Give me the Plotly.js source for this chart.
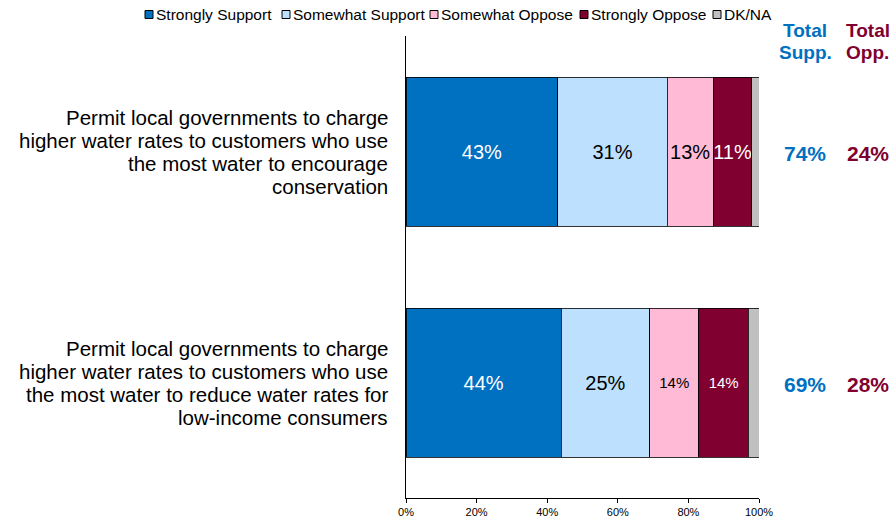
<!DOCTYPE html>
<html>
<head>
<meta charset="utf-8">
<script src="https://cdn.plot.ly/plotly-3.0.1.min.js"></script>
<style>html,body{margin:0;padding:0;background:#fff;}#chart{width:894px;height:518px;}</style>
</head>
<body>
<div id="chart"></div>
<script>
// ---- data ----
const categories = [
  "Permit local governments to charge|higher water rates to customers who use|the most water to encourage|conservation",
  "Permit local governments to charge|higher water rates to customers who use|the most water to reduce water rates for|low-income consumers"
];
const seriesNames = ["Strongly Support", "Somewhat Support", "Somewhat Oppose", "Strongly Oppose", "DK/NA"];
const stronglySupport = [43, 44];
const somewhatSupport = [31, 25];
const somewhatOppose = [13, 14];
const stronglyOppose = [11, 14];
const dkna = [2, 3];
const totalSupport = [74, 69];
const totalOppose = [24, 28];
const xTicks = [0, 20, 40, 60, 80, 100];

// ---- styles ----
const FONT = "Arial, Liberation Sans, sans-serif";
const colors = ["#0070C0", "#BDE0FF", "#FFBBD5", "#800030", "#C0C0C0"];
const textColors = ["#ffffff", "#000000", "#000000", "#ffffff", "#000000"];
const textSizes = [[20, 20], [20, 20], [20, 15], [20, 15], [1, 1]];
const allValues = [stronglySupport, somewhatSupport, somewhatOppose, stronglyOppose, dkna];
const SUPP_COLOR = "#0070C0", OPP_COLOR = "#800030";

const M = {l: 406, r: 135, t: 36, b: 20};
const W = 894, H = 518;
const PW = W - M.l - M.r, PH = H - M.t - M.b;
const px2x = p => (p - M.l) / PW;
const px2y = p => (H - M.b - p) / PH;

const traces = allValues.map((vals, i) => ({
  type: "bar",
  orientation: "h",
  name: seriesNames[i],
  y: categories,
  x: vals,
  marker: {color: colors[i], line: {color: "#000000", width: 0.8}},
  text: i === 4 ? vals.map(() => "") : vals.map(v => v + "%"),
  textposition: i === 4 ? "none" : "inside",
  insidetextanchor: "middle",
  textangle: 0,
  constraintext: "none",
  textfont: {family: FONT, size: textSizes[i], color: textColors[i]},
  showlegend: false,
  hoverinfo: "x+name"
}));

const annotations = [];
const shapes = [];

// category labels, one annotation per line for tight line spacing
const LINE_PITCH = 23;
categories.forEach(c => {
  const lines = c.split("|");
  lines.forEach((ln, k) => {
    annotations.push({xref: "paper", yref: "y", x: px2x(389), y: c, xanchor: "right", yanchor: "middle",
      yshift: ((lines.length - 1) / 2 - k) * LINE_PITCH, text: ln, showarrow: false, borderpad: 0,
      font: {family: FONT, size: 20.5, color: "#000"}});
  });
});

// Total headers
[["Total", 30.5], ["Supp.", 52.5]].forEach(([t, py]) => annotations.push({xref: "paper", yref: "paper", x: px2x(805), y: px2y(py),
  text: "<b>" + t + "</b>", showarrow: false, xanchor: "center", yanchor: "middle", borderpad: 0,
  font: {family: FONT, size: 19, color: SUPP_COLOR}}));
[["Total", 30.5], ["Opp.", 52.5]].forEach(([t, py]) => annotations.push({xref: "paper", yref: "paper", x: px2x(867.5), y: px2y(py),
  text: "<b>" + t + "</b>", showarrow: false, xanchor: "center", yanchor: "middle", borderpad: 0,
  font: {family: FONT, size: 19, color: OPP_COLOR}}));

// totals per row
categories.forEach((c, i) => {
  annotations.push({xref: "paper", yref: "y", x: px2x(805), y: c, yshift: -2, text: "<b>" + totalSupport[i] + "%</b>", showarrow: false,
    font: {family: FONT, size: 21, color: SUPP_COLOR}, xanchor: "center"});
  annotations.push({xref: "paper", yref: "y", x: px2x(867.5), y: c, yshift: -2, text: "<b>" + totalOppose[i] + "%</b>", showarrow: false,
    font: {family: FONT, size: 21, color: OPP_COLOR}, xanchor: "center"});
});

// compact legend at top
const legendX = [145, 282, 430, 580, 713];
const LEG_Y = 14.5, SQ = 8;
seriesNames.forEach((n, i) => {
  shapes.push({type: "rect", xref: "paper", yref: "paper",
    x0: px2x(legendX[i]), x1: px2x(legendX[i] + SQ), y0: px2y(LEG_Y + SQ / 2), y1: px2y(LEG_Y - SQ / 2),
    fillcolor: colors[i], line: {color: "#000", width: 1}, layer: "above"});
  annotations.push({xref: "paper", yref: "paper", x: px2x(legendX[i] + SQ + 2), y: px2y(LEG_Y), xanchor: "left", yanchor: "middle",
    text: n, showarrow: false, borderpad: 0, font: {family: FONT, size: 15.5, color: "#000"}});
});

const layout = {
  width: W, height: H,
  margin: {l: M.l, r: M.r, t: M.t, b: M.b, pad: 0, autoexpand: false},
  paper_bgcolor: "#ffffff", plot_bgcolor: "#ffffff",
  barmode: "stack",
  bargap: 0.355,
  font: {family: FONT, color: "#000000"},
  showlegend: false,
  xaxis: {range: [0, 100], tickvals: xTicks, ticktext: xTicks.map(v => v + "%"), ticks: "outside", ticklen: 4,
    tickcolor: "#000", showline: true, linecolor: "#000", linewidth: 1, showgrid: false, zeroline: false,
    tickfont: {size: 11, color: "#000"}, fixedrange: true, automargin: false},
  yaxis: {autorange: "reversed", showline: true, linecolor: "#000", linewidth: 1, ticks: "", showgrid: false,
    showticklabels: false, fixedrange: true, automargin: false},
  annotations: annotations,
  shapes: shapes
};

Plotly.newPlot("chart", traces, layout, {displayModeBar: false, staticPlot: true});
</script>
</body>
</html>
